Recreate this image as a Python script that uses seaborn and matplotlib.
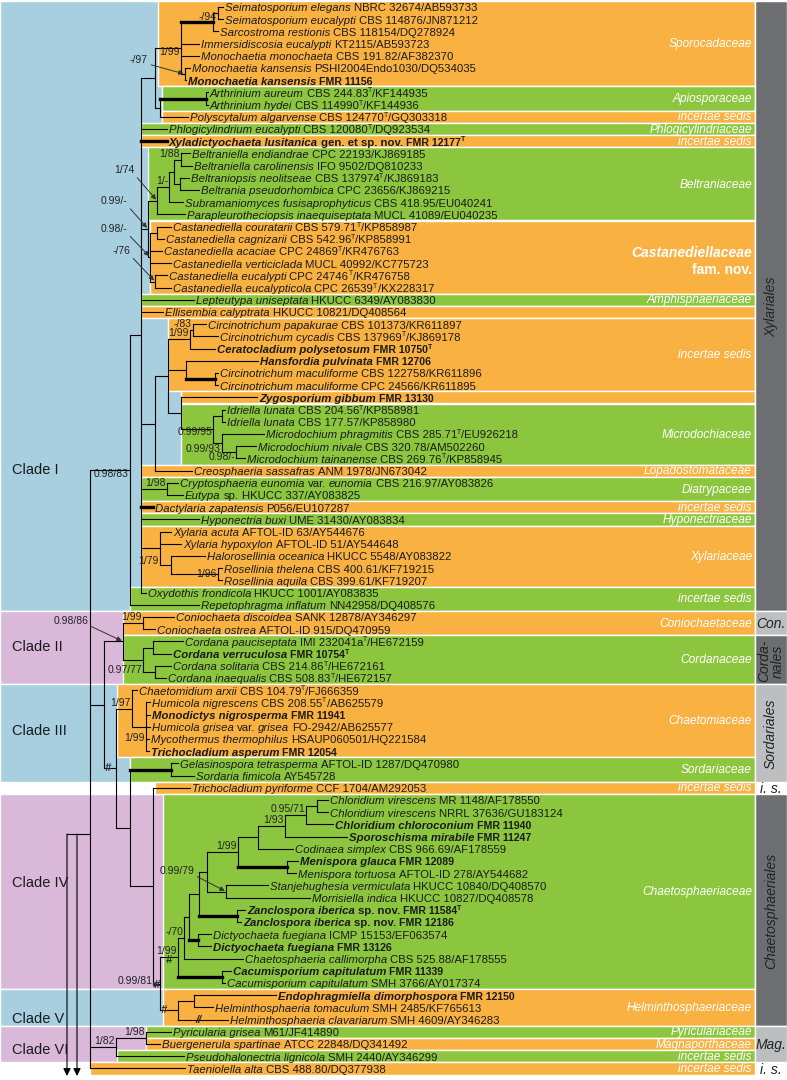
import re
import matplotlib
matplotlib.use("Agg")
import matplotlib.pyplot as plt
import seaborn as sns
import pandas as pd

# Taxa top to bottom. {..} = upright word inside a name, ^T = ex-type mark

taxa = [
    "Seimatosporium elegans", "Seimatosporium eucalypti", "Sarcostroma restionis",
    "Immersidiscosia eucalypti", "Monochaetia monochaeta", "Monochaetia kansensis",
    "Monochaetia kansensis", "Arthrinium aureum", "Arthrinium hydei",
    "Polyscytalum algarvense", "Phlogicylindrium eucalypti",
    "Xyladictyochaeta lusitanica {gen. et sp. nov.}",
    "Beltraniella endiandrae", "Beltraniella carolinensis", "Beltraniopsis neolitseae",
    "Beltrania pseudorhombica", "Subramaniomyces fusisaprophyticus",
    "Parapleurotheciopsis inaequiseptata", "Castanediella couratarii",
    "Castanediella cagnizarii", "Castanediella acaciae", "Castanediella verticiclada",
    "Castanediella eucalypti", "Castanediella eucalypticola", "Lepteutypa uniseptata",
    "Ellisembia calyptrata", "Circinotrichum papakurae", "Circinotrichum cycadis",
    "Ceratocladium polysetosum", "Hansfordia pulvinata", "Circinotrichum maculiforme",
    "Circinotrichum maculiforme", "Zygosporium gibbum", "Idriella lunata",
    "Idriella lunata", "Microdochium phragmitis", "Microdochium nivale",
    "Microdochium tainanense", "Creosphaeria sassafras",
    "Cryptosphaeria eunomia {var.} eunomia", "Eutypa {sp.}", "Dactylaria zapatensis",
    "Hyponectria buxi", "Xylaria acuta", "Xylaria hypoxylon", "Halorosellinia oceanica",
    "Rosellinia thelena", "Rosellinia aquila", "Oxydothis frondicola",
    "Repetophragma inflatum", "Coniochaeta discoidea", "Coniochaeta ostrea",
    "Cordana pauciseptata", "Cordana verruculosa", "Cordana solitaria",
    "Cordana inaequalis", "Chaetomidium arxii", "Humicola nigrescens",
    "Monodictys nigrosperma", "Humicola grisea {var.} grisea", "Mycothermus thermophilus",
    "Trichocladium asperum", "Gelasinospora tetrasperma", "Sordaria fimicola",
    "Trichocladium pyriforme", "Chloridium virescens", "Chloridium virescens",
    "Chloridium chloroconium", "Sporoschisma mirabile", "Codinaea simplex",
    "Menispora glauca", "Menispora tortuosa", "Stanjehughesia vermiculata",
    "Morrisiella indica", "Zanclospora iberica {sp. nov.}", "Zanclospora iberica {sp. nov.}",
    "Dictyochaeta fuegiana", "Dictyochaeta fuegiana", "Chaetosphaeria callimorpha",
    "Cacumisporium capitulatum", "Cacumisporium capitulatum",
    "Endophragmiella dimorphospora", "Helminthosphaeria tomaculum",
    "Helminthosphaeria clavariarum", "Pyricularia grisea", "Buergenerula spartinae",
    "Pseudohalonectria lignicola", "Taeniolella alta",
]

strains = [
    "NBRC 32674/AB593733", "CBS 114876/JN871212", "CBS 118154/DQ278924",
    "KT2115/AB593723", "CBS 191.82/AF382370", "PSHI2004Endo1030/DQ534035",
    "FMR 11156", "CBS 244.83^T/KF144935", "CBS 114990^T/KF144936",
    "CBS 124770^T/GQ303318", "CBS 120080^T/DQ923534", "FMR 12177^T",
    "CPC 22193/KJ869185", "IFO 9502/DQ810233", "CBS 137974^T/KJ869183",
    "CPC 23656/KJ869215", "CBS 418.95/EU040241", "MUCL 41089/EU040235",
    "CBS 579.71^T/KP858987", "CBS 542.96^T/KP858991", "CPC 24869^T/KR476763",
    "MUCL 40992/KC775723", "CPC 24746^T/KR476758", "CPC 26539^T/KX228317",
    "HKUCC 6349/AY083830", "HKUCC 10821/DQ408564", "CBS 101373/KR611897",
    "CBS 137969^T/KJ869178", "FMR 10750^T", "FMR 12706", "CBS 122758/KR611896",
    "CPC 24566/KR611895", "FMR 13130", "CBS 204.56^T/KP858981", "CBS 177.57/KP858980",
    "CBS 285.71^T/EU926218", "CBS 320.78/AM502260", "CBS 269.76^T/KP858945",
    "ANM 1978/JN673042", "CBS 216.97/AY083826", "HKUCC 337/AY083825",
    "P056/EU107287", "UME 31430/AY083834", "AFTOL-ID 63/AY544676",
    "AFTOL-ID 51/AY544648", "HKUCC 5548/AY083822", "CBS 400.61/KF719215",
    "CBS 399.61/KF719207", "HKUCC 1001/AY083835", "NN42958/DQ408576",
    "SANK 12878/AY346297", "AFTOL-ID 915/DQ470959", "IMI 232041a^T/HE672159",
    "FMR 10754^T", "CBS 214.86^T/HE672161", "CBS 508.83^T/HE672157",
    "CBS 104.79^T/FJ666359", "CBS 208.55^T/AB625579", "FMR 11941",
    "FO-2942/AB625577", "HSAUP060501/HQ221584", "FMR 12054",
    "AFTOL-ID 1287/DQ470980", "AY545728", "CCF 1704/AM292053", "MR 1148/AF178550",
    "NRRL 37636/GU183124", "FMR 11940", "FMR 11247", "CBS 966.69/AF178559",
    "FMR 12089", "AFTOL-ID 278/AY544682", "HKUCC 10840/DQ408570",
    "HKUCC 10827/DQ408578", "FMR 11584^T", "FMR 12186", "ICMP 15153/EF063574",
    "FMR 13126", "CBS 525.88/AF178555", "FMR 11339", "SMH 3766/AY017374",
    "FMR 12150", "SMH 2485/KF765613", "SMH 4609/AY346283", "M61/JF414890",
    "ATCC 22848/DQ341492", "SMH 2440/AY346299", "CBS 488.80/DQ377938",
]

# new sequences (drawn in bold)
new_taxa = [6, 11, 28, 29, 32, 53, 58, 61, 67, 68, 70, 74, 75, 77, 79, 81]

# Tree in Newick form: leaves are row numbers, lengths in pixels,
# "!" = thick branch, ">" = support value drawn with an arrow
spor = "(((0:5,1:5)-/94:5,2:5):!32,3:18,4:18,(5:5,6:1)>-/97:4)1/99"
apio = "((7:2,8:2):!46,9:28)"
belt = "((((12:9,13:11)1/88:7,(14:9,15:19):6):5,16:14)1/-:12,17:28)>1/74"
cast = "((18:14,19:7):7,20:12,21:21,(22:12,23:16)>-/76:5)>0.98/-"
circ = "((26:13,27:25)-/83:3,28:25)1/99"
hans = "(29:72,(30:3,31:3):!29)"
micro = "((33:3,34:3):9,(35:42,(36:20,37:9)0.98/-:14)0.99/93:9)0.99/95"
xyla = "(43:11,44:21,(45:34,(46:4,47:4)1/96:47):11)1/79"
incs = "((" + circ + ":22," + hans + ":18,(32:76," + micro + ":32):13):13,38:37)"
comb = ("((" + spor + ":26," + apio + ":5):14,10:26,11:!26,(" + belt + ":9," + cast
        + ":2)>0.99/-:7,24:53,25:22," + incs + ":14,(39:11,40:16)1/98:26,41:!12,42:58,"
        + xyla + ":19,48:5)")
xylariales = "(" + comb + ":11,49:69)0.98/83"

clade2 = "((50:31,51:12)1/99:20,((52:30,53:18):10,(54:16,55:11):12)0.97/77:20)>0.98/86"
chaetomiaceae = "(56:5,(57:4,58:4,59:4,60:3,61:3)1/99:14)1/97"
chlor = "(((65:11,66:11):11,67:27)0.95/71:21,68:62)1/93"
na = "((" + chlor + ":27,69:35):20,(70:11,71:9):!49)1/99"
nb = "(" + na + ":31,(72:42,73:84)>0.99/79:19)"
ne = "((" + nb + ":8,(74:8,75:4):!38):10,(76:13,77:13):!9)"
chaetosph = "((" + ne + ":5,78:59)-/70:6,(79:9,80:3):!44)1/99"
clade45 = "(" + chaetosph + ":18,((81:82,82:19):16,83:50):18)>0.99/81"
lower = ("(" + clade2 + ":19,(" + chaetomiaceae + ":16,((62:7,63:23):!41,(64:37,"
         + clade45 + ":7):23):14):12)")
clade6 = "((84:25,85:14)1/98:30,86:68)1/82"
tree_newick = "(" + xylariales + ":40," + lower + ":14," + clade6 + ":26,87:95)"

# Coloured boxes
fam_names = ["Sporocadaceae", "Apiosporaceae", "incertae sedis", "Phlogicylindriaceae",
             "incertae sedis", "Beltraniaceae", "", "Amphisphaeriaceae", "",
             "incertae sedis", "", "Microdochiaceae", "Lopadostomataceae", "Diatrypaceae",
             "incertae sedis", "Hyponectriaceae", "Xylariaceae", "incertae sedis",
             "Coniochaetaceae", "Cordanaceae", "Chaetomiaceae", "Sordariaceae",
             "incertae sedis", "Chaetosphaeriaceae", "Helminthosphaeriaceae",
             "Pyriculariaceae", "Magnaporthaceae", "incertae sedis", "incertae sedis"]
fam_first = [0, 7, 9, 10, 11, 12, 18, 24, 25, 26, 32, 33, 38, 39, 41, 42, 43, 48, 50, 52,
             56, 62, 64, 65, 81, 84, 85, 86, 87]
fam_last = [6, 8, 9, 10, 11, 17, 23, 24, 25, 31, 32, 37, 38, 40, 41, 42, 47, 49, 51, 55,
            61, 63, 64, 80, 83, 84, 85, 86, 87]
fam_kind = ["o", "g", "o", "g", "o", "g", "o", "g", "o", "o", "o", "g", "o", "g", "o", "g",
            "o", "g", "o", "g", "o", "g", "o", "g", "o", "g", "o", "g", "o"]

orders = ["Xylariales", "Con.", "Corda-\nnales", "Sordariales", "i. s.",
          "Chaetosphaeriales", "Mag.", "i. s."]
order_first = [0, 50, 52, 56, 64, 65, 84, 87]
order_last = [49, 51, 55, 63, 64, 83, 86, 87]
order_kind = ["dark", "light", "dark", "light", "none", "dark", "light", "none"]

clades = ["Clade I", "Clade II", "Clade III", "Clade IV", "Clade V", "Clade VI"]
clade_first = [0, 50, 56, 65, 81, 84]
clade_last = [49, 55, 63, 80, 83, 86]
clade_kind = ["blue", "pink", "blue", "pink", "blue", "pink"]

# ---------------- layout ----------------
W, H = 787, 1080
ROW0, ROWH = 7.0, 12.2
ROOT_X = 90
ROOT_STEM_Y = 834
RIGHT = 755
fam_left = [158, 162, 162, 141, 141, 148, 150, 141, 141, 168, 181, 181, 141, 141, 141,
            141, 141, 130, 123, 123, 117, 130, 155, 163, 163, 146, 146, 117, 90]
clade_label_y = [470, 647, 731, 883, 1019, 1050]
arrow_text = {"-/97": (148, 60), "1/74": (134, 170), "0.99/-": (127, 201),
              "0.98/-": (127, 229), "-/76": (130, 251), "0.98/86": (88, 621),
              "0.99/79": (194, 871), "0.99/81": (153, 981)}
# support labels shifted down (rows), keyed by first leaf under the node
label_nudge = {0: 0.8, 33: 0.7, 35: 1.0, 36: 0.9, 52: 1.3, 57: 1.4, 43: 1.5, 46: 0.5}
breaks = [(108, 768, "#"), (169, 960, "#"), (157, 985, "#"), (164, 1010, "#"),
          (199, 1020, "//")]
colors = {"o": "#f9b142", "g": "#8cc63e", "blue": "#a7cfe0", "pink": "#d9b8da",
          "dark": "#6d6e71", "light": "#bcbec0"}
FS, SUPFS, SFS = 8.2, 7.5, 8.6


def row(ypx):
    return (ypx - ROW0) / ROWH


def parse(s):
    pos = 0

    def node():
        nonlocal pos
        n = {"children": [], "label": "", "len": 0.0, "thick": False, "leaf": None}
        if s[pos] == "(":
            pos += 1
            while True:
                n["children"].append(node())
                if s[pos] == ",":
                    pos += 1
                    continue
                pos += 1
                break
        start = pos
        while pos < len(s) and s[pos] not in ":,)":
            pos += 1
        name = s[start:pos]
        if n["children"]:
            n["label"] = name
        else:
            n["leaf"] = int(name)
        if pos < len(s) and s[pos] == ":":
            pos += 1
            start = pos
            while pos < len(s) and s[pos] not in ",)":
                pos += 1
            ln = s[start:pos]
            if ln.startswith("!"):
                n["thick"] = True
                ln = ln[1:]
            n["len"] = float(ln)
        return n

    return node()


def place(n, x):
    n["x"] = x
    if n["leaf"] is not None:
        n["y"] = float(n["leaf"])
        n["first"] = n["leaf"]
    else:
        for c in n["children"]:
            place(c, x + c["len"])
        n["y"] = (n["children"][0]["y"] + n["children"][-1]["y"]) / 2
        n["first"] = n["children"][0]["first"]


def walk(n):
    yield n
    for c in n["children"]:
        yield from walk(c)


root = parse(tree_newick)
place(root, ROOT_X)
nodes = list(walk(root))

sns.set_theme(style="white")
plt.rcParams["font.family"] = ["Liberation Sans", "DejaVu Sans"]

fig = plt.figure(figsize=(W / 100, H / 100), dpi=100)
ax = fig.add_axes([0, 0, 1, 1])

# clade / family / order boxes
for f, l, k in zip(clade_first, clade_last, clade_kind):
    ax.barh((f + l) / 2, RIGHT, left=0, height=l - f + 1, color=colors[k], zorder=0.5)
for f, l, k, x0 in zip(fam_first, fam_last, fam_kind, fam_left):
    ax.barh((f + l) / 2, RIGHT - x0, left=x0, height=l - f + 1, color=colors[k],
            zorder=0.8)
for f, l, k in zip(order_first, order_last, order_kind):
    if k != "none":
        ax.barh((f + l) / 2, W - RIGHT, left=RIGHT, height=l - f + 1, color=colors[k],
                zorder=0.8)

# branches
segs = []
for n in nodes:
    if not n["children"]:
        continue
    ys = [c["y"] for c in n["children"]]
    segs.append((n["x"], min(ys), n["x"], max(ys), "thin"))
    for c in n["children"]:
        segs.append((n["x"], c["y"], c["x"], c["y"], "thick" if c["thick"] else "thin"))
segs.append((ROOT_X, row(ROOT_STEM_Y), 67, row(ROOT_STEM_Y), "thin"))
rows_ = []
for i, (x1, y1, x2, y2, w) in enumerate(segs):
    rows_.append({"seg": i, "x": x1, "y": y1, "w": w})
    rows_.append({"seg": i, "x": x2, "y": y2, "w": w})
df = pd.DataFrame(rows_)
sns.lineplot(data=df, x="x", y="y", units="seg", estimator=None, sort=False, size="w",
             sizes={"thin": 0.8, "thick": 2.4}, color="black", legend=False, ax=ax,
             solid_capstyle="projecting", zorder=3)

ax.set_xlim(0, W)
ax.set_ylim(row(H), row(0))
ax.set_axis_off()

# root arrows
for xa in (67, 77):
    ax.annotate("", xy=(xa, row(1076)), xytext=(xa, row(ROOT_STEM_Y)),
                arrowprops=dict(arrowstyle="-|>", color="black", lw=0.8,
                                mutation_scale=11, shrinkA=0, shrinkB=0), zorder=3)

# support values
for n in nodes:
    lab = n["label"]
    if not lab:
        continue
    if lab.startswith(">"):
        lab = lab[1:]
        tx, ty = arrow_text[lab]
        ax.annotate(lab, xy=(n["x"], n["y"]), xytext=(tx, row(ty)), ha="right",
                    va="center", fontsize=SUPFS, color="#222222", zorder=4,
                    arrowprops=dict(arrowstyle="-|>", color="#333333", lw=0.7,
                                    mutation_scale=7, shrinkA=0, shrinkB=1,
                                    relpos=(1.0, 0.1)))
    else:
        dy = label_nudge.get(n["first"], 0.0)
        ax.text(n["x"] - 1, n["y"] - 0.08 + dy, lab, ha="right", va="bottom",
                fontsize=SUPFS, color="#222222", zorder=4)

for bx, by, sym in breaks:
    ax.text(bx, row(by), sym, ha="center", va="center", fontsize=8, style="italic",
            fontweight="bold", zorder=4)

# tip labels
renderer = fig.canvas.get_renderer()
space = 0.26 * FS * 100 / 72


def pieces_for(i):
    wt = "bold" if i in new_taxa else "normal"
    out = []
    for p in re.split(r"(\{[^}]*\})", taxa[i]):
        p = p.strip()
        if not p:
            continue
        if p.startswith("{"):
            out.append((p[1:-1], dict(style="normal", weight=wt, size=FS), True))
        else:
            out.append((p, dict(style="italic", weight=wt, size=FS), True))
    sfs = FS - 0.6 if wt == "bold" else FS
    parts = strains[i].split("^T")
    for k, s in enumerate(parts):
        if s:
            out.append((s, dict(style="normal", weight=wt, size=sfs), k == 0))
        if k < len(parts) - 1:
            out.append(("T", dict(style="normal", weight=wt, size=FS * 0.62, sup=True),
                        False))
    return out


tips = {n["leaf"]: n for n in nodes if n["leaf"] is not None}
for i in range(len(taxa)):
    x = tips[i]["x"] + 2
    y = tips[i]["y"]
    first = True
    for text, kw, gap in pieces_for(i):
        kw = dict(kw)
        sup = kw.pop("sup", False)
        if gap and not first:
            x += space
        t = ax.text(x, y + (0.0 if sup else 0.36), text, ha="left", va="baseline",
                    fontstyle=kw["style"], fontweight=kw["weight"], fontsize=kw["size"],
                    color="#1a1a1a", zorder=4)
        x += t.get_window_extent(renderer).width
        first = False

# family labels
for f, l, k, name in zip(fam_first, fam_last, fam_kind, fam_names):
    if name:
        ax.text(RIGHT - 3, (f + l) / 2 + 0.05, name, ha="right", va="center",
                fontsize=SFS, style="italic", color="white", zorder=4)
ax.text(RIGHT - 3, row(253), "Castanediellaceae", ha="right", va="center",
        fontsize=SFS + 1.4, style="italic", fontweight="bold", color="white", zorder=4)
ax.text(RIGHT - 3, row(270), "fam. nov.", ha="right", va="center", fontsize=SFS + 1.4,
        fontweight="bold", color="white", zorder=4)

# order labels
for name, f, l, k in zip(orders, order_first, order_last, order_kind):
    rot = 90 if (l - f) >= 3 else 0
    ax.text((RIGHT + W) / 2, (f + l) / 2 + 0.1, name, ha="center", va="center",
            rotation=rot, fontsize=10, style="italic", color="#222222",
            linespacing=0.9, zorder=4)

# clade labels
for name, yl in zip(clades, clade_label_y):
    ax.text(12, row(yl), name, ha="left", va="center", fontsize=10.5,
            color="#1a1a1a", zorder=4)

fig.savefig("out.png", dpi=100)
